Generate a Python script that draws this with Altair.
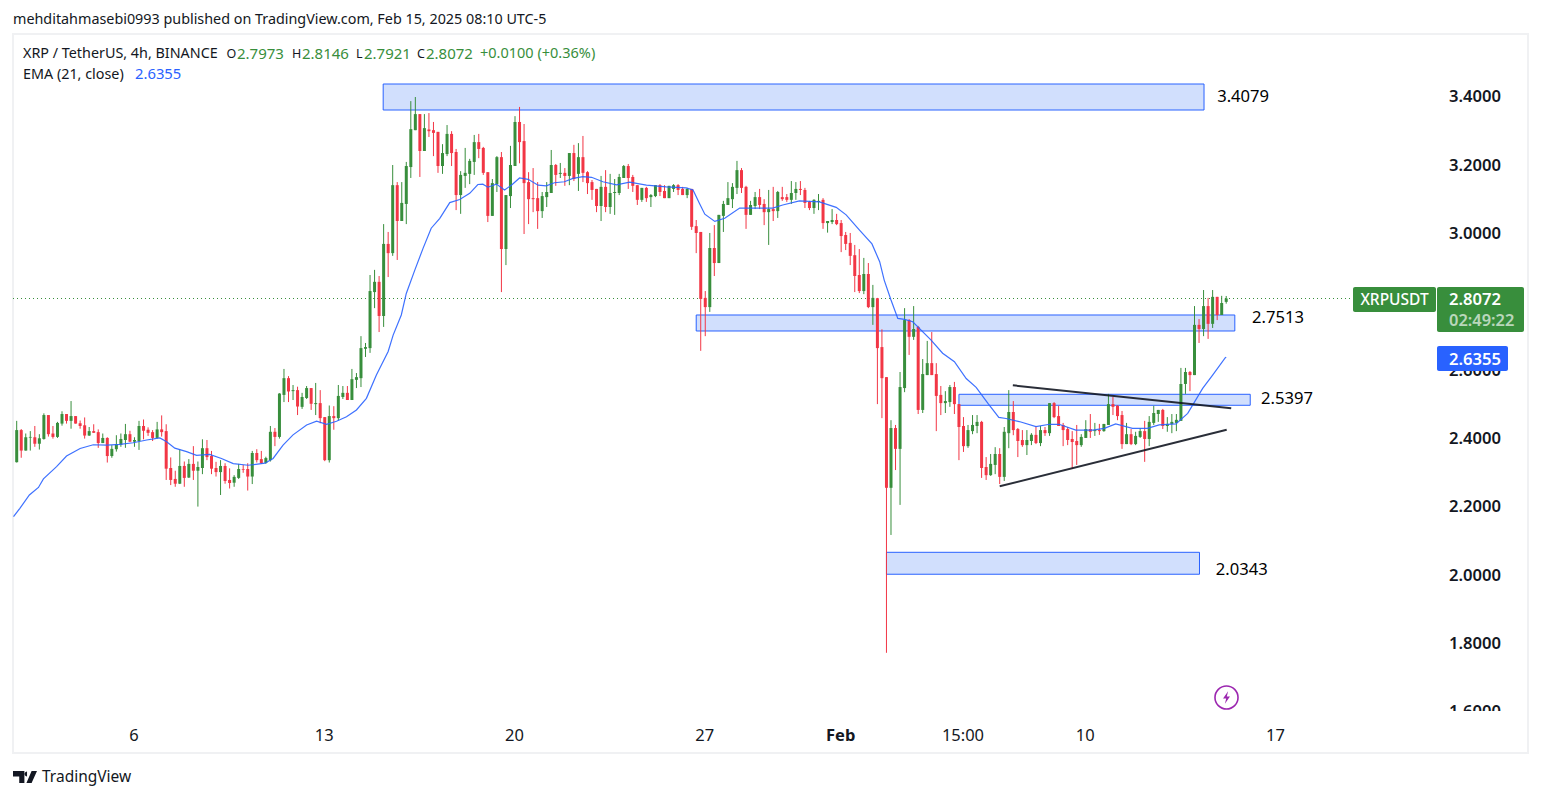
import altair as alt
import pandas as pd

# Candle values (XRP / TetherUS, 4h), left to right
high = [2.449,2.425,2.412,2.419,2.434,2.410,2.471,2.466,2.434,2.446,
2.477,2.469,2.507,2.463,2.450,2.459,2.431,2.439,2.424,2.412,
2.401,2.378,2.407,2.412,2.440,2.420,2.401,2.449,2.453,2.430,
2.422,2.446,2.465,2.439,2.342,2.303,2.366,2.330,2.337,2.375,
2.330,2.395,2.393,2.361,2.329,2.334,2.325,2.310,2.290,2.323,
2.320,2.325,2.361,2.366,2.361,2.344,2.434,2.428,2.530,2.601,
2.580,2.554,2.549,2.531,2.551,2.545,2.560,2.539,2.460,2.494,
2.492,2.554,2.551,2.551,2.601,2.589,2.697,2.677,2.876,2.891,
2.873,3.025,3.002,3.198,3.148,3.148,3.207,3.385,3.397,3.347,
3.347,3.350,3.324,3.295,3.259,3.315,3.297,3.245,3.180,3.248,
3.216,3.286,3.289,3.251,3.177,3.157,3.224,3.236,3.110,3.254,
3.341,3.368,3.318,3.177,3.189,3.148,3.119,3.148,3.242,3.201,
3.204,3.189,3.233,3.257,3.262,3.283,3.180,3.154,3.128,3.166,
3.183,3.172,3.157,3.172,3.198,3.201,3.169,3.139,3.131,3.134,
3.113,3.139,3.142,3.139,3.137,3.142,3.142,3.134,3.131,3.128,
3.037,3.002,2.829,2.999,3.022,3.052,3.093,3.148,3.145,3.210,
3.189,3.137,3.093,3.119,3.128,3.098,3.125,3.134,3.122,3.134,
3.113,3.151,3.148,3.151,3.131,3.093,3.098,3.113,3.101,3.034,
3.069,3.055,3.037,3.002,2.999,2.964,2.952,2.926,2.911,2.847,
2.809,2.717,2.577,2.451,2.437,2.592,2.779,2.747,2.785,2.727,
2.630,2.683,2.709,2.618,2.551,2.536,2.554,2.563,2.498,2.460,
2.437,2.466,2.466,2.449,2.343,2.352,2.372,2.369,2.431,2.539,
2.507,2.428,2.422,2.422,2.413,2.434,2.434,2.431,2.501,2.504,
2.493,2.443,2.431,2.419,2.437,2.410,2.451,2.469,2.443,2.440,
2.440,2.528,2.519,2.495,2.478,2.443,2.425,2.417,2.428,2.449,
2.463,2.493,2.481,2.484,2.460,2.469,2.469,2.604,2.604,2.595,
2.785,2.747,2.832,2.809,2.832,2.812,2.815,2.8146]

body_top = [2.422,2.422,2.401,2.402,2.401,2.398,2.466,2.466,2.412,2.443,
2.469,2.469,2.463,2.463,2.442,2.436,2.419,2.419,2.416,2.399,
2.399,2.367,2.381,2.396,2.410,2.410,2.393,2.434,2.434,2.423,
2.416,2.424,2.424,2.419,2.311,2.279,2.317,2.317,2.323,2.323,
2.314,2.369,2.369,2.346,2.311,2.317,2.317,2.276,2.285,2.308,
2.308,2.308,2.355,2.355,2.337,2.340,2.417,2.417,2.529,2.574,
2.574,2.539,2.539,2.519,2.545,2.545,2.501,2.501,2.460,2.463,
2.463,2.522,2.531,2.531,2.571,2.577,2.662,2.665,2.829,2.856,
2.856,2.967,2.967,3.139,3.139,3.087,3.195,3.303,3.347,3.347,
3.306,3.302,3.300,3.295,3.233,3.289,3.289,3.236,3.169,3.175,
3.210,3.265,3.265,3.248,3.177,3.145,3.221,3.221,3.110,3.198,
3.324,3.324,3.268,3.148,3.101,3.101,3.107,3.119,3.198,3.198,
3.175,3.175,3.233,3.233,3.221,3.221,3.177,3.148,3.128,3.134,
3.134,3.116,3.119,3.163,3.195,3.195,3.163,3.139,3.131,3.131,
3.110,3.139,3.139,3.122,3.137,3.139,3.139,3.128,3.128,3.128,
3.019,3.002,2.809,2.955,2.955,3.052,3.084,3.101,3.134,3.183,
3.183,3.134,3.081,3.104,3.104,3.084,3.069,3.069,3.119,3.104,
3.104,3.116,3.128,3.128,3.125,3.090,3.096,3.093,3.096,3.034,
3.037,3.037,3.028,2.993,2.970,2.934,2.876,2.879,2.879,2.809,
2.808,2.665,2.577,2.428,2.428,2.548,2.744,2.744,2.718,2.724,
2.586,2.618,2.618,2.586,2.525,2.507,2.548,2.548,2.498,2.434,
2.422,2.437,2.446,2.446,2.314,2.323,2.352,2.352,2.417,2.475,
2.475,2.425,2.393,2.393,2.408,2.408,2.422,2.422,2.501,2.501,
2.463,2.437,2.425,2.396,2.390,2.402,2.425,2.425,2.422,2.422,
2.440,2.498,2.498,2.493,2.466,2.410,2.410,2.405,2.419,2.419,
2.446,2.472,2.481,2.481,2.440,2.446,2.452,2.557,2.592,2.592,
2.730,2.730,2.785,2.785,2.812,2.812,2.794,2.8072]

body_bottom = [2.328,2.362,2.362,2.400,2.382,2.382,2.396,2.410,2.402,2.402,
2.441,2.449,2.449,2.441,2.434,2.406,2.406,2.414,2.384,2.384,
2.346,2.346,2.366,2.379,2.393,2.388,2.388,2.390,2.420,2.414,
2.399,2.399,2.416,2.309,2.276,2.265,2.265,2.282,2.283,2.303,
2.303,2.311,2.343,2.309,2.299,2.299,2.273,2.267,2.268,2.282,
2.306,2.286,2.286,2.334,2.325,2.326,2.334,2.402,2.402,2.525,
2.535,2.536,2.491,2.490,2.516,2.499,2.498,2.457,2.334,2.334,
2.457,2.457,2.519,2.510,2.510,2.569,2.574,2.660,2.662,2.826,
2.756,2.756,2.940,2.940,3.034,3.034,3.084,3.192,3.300,3.239,
3.239,3.297,3.292,3.195,3.195,3.230,3.233,3.110,3.110,3.166,
3.172,3.207,3.245,3.175,3.049,3.049,3.142,2.952,2.952,3.107,
3.195,3.265,3.145,3.098,3.098,3.063,3.063,3.104,3.116,3.169,
3.172,3.166,3.166,3.157,3.172,3.175,3.145,3.125,3.078,3.078,
3.075,3.075,3.116,3.116,3.160,3.160,3.137,3.096,3.096,3.101,
3.104,3.107,3.119,3.101,3.101,3.128,3.125,3.110,3.110,3.017,
2.999,2.806,2.782,2.782,2.911,2.911,3.049,3.081,3.098,3.131,
3.131,3.052,3.052,3.078,3.081,3.060,3.060,3.063,3.063,3.098,
3.096,3.096,3.116,3.125,3.087,3.072,3.072,3.090,3.028,3.028,
3.031,3.025,2.990,2.967,2.932,2.873,2.829,2.829,2.782,2.782,
2.662,2.574,2.253,2.253,2.367,2.367,2.545,2.695,2.695,2.481,
2.481,2.583,2.583,2.522,2.501,2.501,2.504,2.498,2.431,2.375,
2.375,2.419,2.434,2.311,2.290,2.290,2.320,2.285,2.285,2.413,
2.422,2.390,2.378,2.378,2.390,2.384,2.384,2.413,2.413,2.460,
2.434,2.422,2.393,2.387,2.378,2.378,2.399,2.417,2.419,2.419,
2.419,2.437,2.490,2.463,2.381,2.381,2.381,2.381,2.402,2.396,
2.396,2.443,2.469,2.434,2.434,2.440,2.443,2.449,2.557,2.583,
2.583,2.718,2.718,2.733,2.733,2.759,2.759,2.7973]

low = [2.327,2.341,2.362,2.362,2.373,2.365,2.394,2.403,2.397,2.399,
2.435,2.441,2.426,2.441,2.426,2.397,2.405,2.414,2.370,2.384,
2.327,2.341,2.359,2.373,2.370,2.387,2.373,2.364,2.395,2.405,
2.390,2.397,2.403,2.276,2.261,2.256,2.264,2.256,2.282,2.276,
2.198,2.293,2.334,2.293,2.286,2.232,2.265,2.251,2.256,2.279,
2.297,2.245,2.264,2.327,2.323,2.323,2.330,2.375,2.397,2.504,
2.504,2.510,2.466,2.484,2.513,2.481,2.466,2.442,2.331,2.327,
2.423,2.450,2.513,2.510,2.510,2.545,2.548,2.636,2.648,2.779,
2.709,2.724,2.870,2.932,2.920,3.034,3.025,3.160,3.300,3.163,
3.239,3.280,3.224,3.175,3.172,3.224,3.195,3.066,3.055,3.131,
3.142,3.169,3.218,3.169,3.031,3.049,3.119,2.826,2.905,3.072,
3.195,3.203,2.996,3.025,3.060,3.011,3.043,3.075,3.116,3.137,
3.160,3.137,3.139,3.151,3.122,3.148,3.113,3.096,3.060,3.034,
3.060,3.055,3.052,3.110,3.160,3.128,3.119,3.081,3.090,3.090,
3.075,3.104,3.107,3.101,3.101,3.119,3.110,3.110,3.101,3.008,
2.940,2.654,2.697,2.768,2.873,2.911,3.002,3.081,3.072,3.113,
3.116,3.011,3.052,3.069,3.069,3.022,2.964,3.034,3.043,3.093,
3.090,3.084,3.096,3.110,3.072,3.066,3.055,3.066,3.011,3.000,
3.025,3.022,2.943,2.949,2.905,2.826,2.823,2.820,2.779,2.730,
2.498,2.457,1.770,2.115,2.305,2.203,2.533,2.642,2.686,2.469,
2.472,2.583,2.583,2.419,2.466,2.472,2.490,2.469,2.334,2.358,
2.370,2.410,2.413,2.282,2.276,2.288,2.293,2.264,2.273,2.369,
2.407,2.343,2.373,2.349,2.378,2.381,2.375,2.405,2.405,2.457,
2.434,2.375,2.378,2.308,2.320,2.373,2.399,2.399,2.405,2.408,
2.417,2.437,2.466,2.451,2.367,2.381,2.378,2.378,2.399,2.329,
2.375,2.437,2.446,2.425,2.417,2.413,2.419,2.449,2.528,2.536,
2.583,2.677,2.697,2.689,2.721,2.744,2.759,2.7921]

rising = ("GRGGRGGRRG" "GRGRRRGRRG" "RGGGGRGGRR" "RGRRRRGRGR" "GGRRRGRRGG"
          "RRGRRGGRGG" "RGRGGRGRRG" "RGGRGGGGGG" "RGRGRGGGGR" "GRRRGGRRGG"
          "GGRRRGGRGG" "GRRRRRGGGR" "GRGRGRRRRG" "RGGGGRRRGR" "GGRRGGRRGR"
          "RRRGRGGGGG" "RRGGRRGRGR" "RGGRRRGGRG" "GRRRRRRGRG" "RRRGRGGRGR"
          "GGRRRGGRRR" "GGGRRGGRGG" "RRRGGRGRGR" "RRRRRGGRGR" "GGRRRGRGGR"
          "GGGRGGGGGR" "GRGRGRGG")

# EMA (21, close)
ema_bar = [-0.7,0.7,2.8,4.8,5.9,8.8,11.0,14.0,16.9,19.9,22.8,25.7,28.7,31.6,33.1,34.9,37.5,39.7,42.6,45.2,
47.8,51.1,54.8,56.6,58.8,61.0,64.0,66.2,68.4,70.6,72.8,75.0,77.2,79.4,82.0,83.1,84.9,86.0,87.9,89.7,
91.5,93.4,95.6,97.8,100.0,101.8,102.9,104.0,105.9,107.7,109.2,111.0,112.9,115.1,116.9,118.7,120.9,122.8,125.0,126.9,
129.4,132.4,135.3,139.0,143.4,147.8,149.3,150.7,151.9,154.1,156.3,159.6,162.5,166.9,169.1,172.8,177.2,180.9,183.1,186.0,
188.8,190.5,191.5,193.0,194.5,196.0,197.8,201.8,204.4,207.0,209.6,211.8,214.4,216.8,218.4,221.3,225.0,228.0,230.1,233.8,
237.5,240.1,242.6,246.3,249.6,252.2,255.9,258.5,261.8,264.0,266.8,267.0]
ema_price = [2.169,2.193,2.232,2.254,2.279,2.315,2.346,2.368,2.379,2.378,2.380,2.385,2.393,2.399,2.388,2.369,2.359,2.348,2.351,2.339,
2.324,2.319,2.325,2.339,2.378,2.408,2.437,2.448,2.439,2.448,2.461,2.481,2.515,2.583,2.652,2.700,2.759,2.822,2.891,2.954,
3.013,3.042,3.088,3.097,3.115,3.141,3.142,3.133,3.142,3.125,3.139,3.160,3.156,3.139,3.137,3.146,3.149,3.159,3.164,3.162,
3.149,3.140,3.148,3.139,3.134,3.131,3.125,3.086,3.054,3.033,3.042,3.072,3.072,3.072,3.081,3.093,3.090,3.074,3.052,3.008,
2.967,2.915,2.861,2.803,2.749,2.746,2.739,2.686,2.647,2.622,2.573,2.547,2.500,2.459,2.456,2.447,2.432,2.439,2.439,2.422,
2.422,2.427,2.440,2.427,2.427,2.437,2.440,2.471,2.544,2.583,2.634,2.6355]

# Drawn zones and their labels
zone_start = [80.9,150.0,208.0,192.0]
zone_end = [262.1,268.9,272.3,261.1]
zone_top = [3.4351,2.7589,2.5268,2.0642]
zone_bottom = [3.3590,2.7121,2.4946,2.0000]
zone_text = ["3.4079","2.7513","2.5397","2.0343"]
zone_text_bar = [265.0,272.7,274.7,264.7]
zone_text_price = [3.400,2.7531,2.5159,2.0153]

# Drawn trend lines
trend_id = ["upper","upper","lower","lower"]
trend_bar = [219.9,268.1,217.0,267.1]
trend_price = [2.5531,2.4858,2.2574,2.4231]

price_ticks = [1.6,1.8,2.0,2.2,2.4,2.6,2.8,3.0,3.2,3.4]
time_ticks = [26,68,110,152,182,209,236,278]
time_labels = ["6","13","20","27","Feb","15:00","10","17"]
last_price = 2.8072

GREEN, RED, BLUE = "#388e3c", "#f23645", "#2962ff"
INK = "#131722"
F = "Noto Sans"

bars = list(range(len(high)))
candles = pd.DataFrame({
    "bar": bars, "high": high, "low": low, "top": body_top, "bottom": body_bottom,
    "dir": list(rising)})
candles["open"] = [b if d == "G" else t for b, t, d in zip(body_bottom, body_top, rising)]
candles["close"] = [t if d == "G" else b for b, t, d in zip(body_bottom, body_top, rising)]
ema = pd.DataFrame({"bar": ema_bar, "price": ema_price})
zones = pd.DataFrame({"a": zone_start, "b": zone_end, "t": zone_top, "u": zone_bottom})
zlabels = pd.DataFrame({"bar": zone_text_bar, "price": zone_text_price, "label": zone_text})
trends = pd.DataFrame({"id": trend_id, "bar": trend_bar, "price": trend_price})
one = pd.DataFrame({"a": [0]})

W, H = 1522, 780
xscale = alt.Scale(domain=[-1.9205, 334.06], nice=False, zero=False, padding=0)
yscale = alt.Scale(domain=[1.37424, 3.65761], nice=False, zero=False, padding=0)
label_expr = "[" + ",".join("'%s'" % s for s in time_labels) + "][indexof([" + ",".join(map(str, time_ticks)) + "],datum.value)]"
xaxis = alt.Axis(values=time_ticks, labelExpr=label_expr, grid=False, domain=False, ticks=False, title=None,
                 labelPadding=0, offset=-61, labelOffset=-1, labelFont=F, labelFontSize=16.5, labelColor=INK,
                 labelBaseline="top", labelOverlap=False, zindex=1,
                 labelFontWeight=alt.condition("datum.value == 182", alt.value("bold"), alt.value("normal")))
yaxis = alt.Axis(values=price_ticks, format=".4f", orient="right", grid=False, domain=False, ticks=False, title=None,
                 labelPadding=0, offset=-81.5, labelOffset=1, labelFont=F, labelFontSize=16.6, labelColor=INK,
                 labelAlign="left", labelBaseline="middle", labelOverlap=False, zindex=0, labelFontWeight=600)

def X(f):
    return alt.X(f, type="quantitative", scale=xscale, axis=xaxis)

def Y(f):
    return alt.Y(f, type="quantitative", scale=yscale, axis=yaxis)

dircolor = alt.Color("dir:N", scale=alt.Scale(domain=["G", "R"], range=[GREEN, RED]), legend=None)

def txt(s, x, y, size, color, align="left", weight="normal", opacity=1):
    return alt.Chart(one).mark_text(text=s, align=align, baseline="middle", font=F, fontSize=size,
                                    fontWeight=weight, color=color, opacity=opacity).encode(
        x=alt.value(x - 8), y=alt.value(y - 8))

def box(x0, y0, x1, y1, fill, **kw):
    return alt.Chart(one).mark_rect(fill=fill, **kw).encode(
        x=alt.value(x0 - 8), x2=alt.value(x1 - 8), y=alt.value(y0 - 8), y2=alt.value(y1 - 8))

HEAD = 14.35
NUM = 15
OHLC = 12.5
layers = [
    box(13, 34, 1528, 753, "#ffffff", fillOpacity=0, stroke="#f0f1f3", strokeWidth=2),
    alt.Chart(pd.DataFrame({"price": [last_price]})).mark_rule(color=GREEN, strokeWidth=1, strokeDash=[1, 3]).encode(
        y=Y("price"), x=alt.value(5), x2=alt.value(1345)),
    alt.Chart(zones).mark_rect(fill="#d1dffd", stroke=BLUE, strokeWidth=1).encode(
        x=X("a"), x2="b:Q", y=Y("t"), y2="u:Q"),
    alt.Chart(candles).mark_rule(strokeWidth=1).encode(x=X("bar"), y=Y("high"), y2="low:Q", color=dircolor),
    alt.Chart(candles).mark_bar(size=3).encode(x=X("bar"), y=Y("top"), y2="bottom:Q", color=dircolor),
    alt.Chart(ema).mark_line(color=BLUE, strokeWidth=1.2, opacity=0.9).encode(x=X("bar"), y=Y("price"), order="bar:Q"),
    alt.Chart(trends).mark_line(color=INK, strokeWidth=2, opacity=0.9).encode(
        x=X("bar"), y=Y("price"), detail="id:N", order="bar:Q"),
    alt.Chart(zlabels).mark_text(align="left", baseline="middle", font=F, fontSize=16.6, dy=1, color="#000000").encode(
        x=X("bar"), y=Y("price"), text="label:N"),
    box(1440, 711, 1520, 752, "#ffffff"),
    box(1353, 287, 1436, 312, GREEN, cornerRadius=2),
    box(1437, 287, 1524, 332, GREEN, cornerRadius=2),
    box(1437, 346, 1508, 371, BLUE, cornerRadius=2),
    txt("XRPUSDT", 1394.5, 300, 15.5, "#ffffff", align="center", weight=500),
    txt(f"{last_price:.4f}", 1449, 300, 16.6, "#ffffff", weight=600),
    txt("02:49:22", 1449, 321, 16.4, "#ffffff", weight=600, opacity=0.65),
    txt("2.6355", 1449, 359.5, 16.6, "#ffffff", weight=600),
    txt("mehditahmasebi0993 published on TradingView.com, Feb 15, 2025 08:10 UTC-5", 13, 20, HEAD, INK),
    txt("XRP / TetherUS, 4h, BINANCE", 23, 54, HEAD, INK),
    txt("O", 226.5, 54, OHLC, INK), txt("2.7973", 237, 54, NUM, GREEN),
    txt("H", 292, 54, OHLC, INK), txt("2.8146", 302, 54, NUM, GREEN),
    txt("L", 356, 54, OHLC, INK), txt("2.7921", 364, 54, NUM, GREEN),
    txt("C", 417, 54, OHLC, INK), txt("2.8072", 426, 54, NUM, GREEN),
    txt("+0.0100 (+0.36%)", 480, 54, 14.5, GREEN),
    txt("EMA (21, close)", 23, 75, HEAD, INK),
    txt("2.6355", 135, 75, 14.8, BLUE),
    txt("TradingView", 42, 777, 15.5, INK),
    alt.Chart(one).mark_point(
        shape="M-1 -.5H-.05V.5H-.48V-.05H-1Z M.17 -.45A.2 .2 0 1 0 .171 -.05Z M.55 -.5H1L.55 .5H.12Z",
        size=576, filled=True, fill=INK, stroke=None, opacity=1).encode(x=alt.value(17), y=alt.value(769)),
    alt.Chart(one).mark_point(shape="circle", size=531, filled=False, stroke="#9c27b0", strokeWidth=1.6, opacity=1).encode(
        x=alt.value(1218.5), y=alt.value(689.5)),
    alt.Chart(one).mark_point(
        shape="M.25 -1L-.55 .15H-.05L-.25 1L.55 -.15H.05Z",
        size=160, filled=True, fill="#9c27b0", stroke=None, opacity=1).encode(x=alt.value(1218.5), y=alt.value(689.5)),
]

chart = alt.layer(*layers).properties(
    width=W, height=H, padding=0, background="#ffffff",
    autosize=alt.AutoSizeParams(type="none"),
).configure_view(stroke=None)

chart.save("out.html", embed_options={"renderer": "svg", "actions": False})
